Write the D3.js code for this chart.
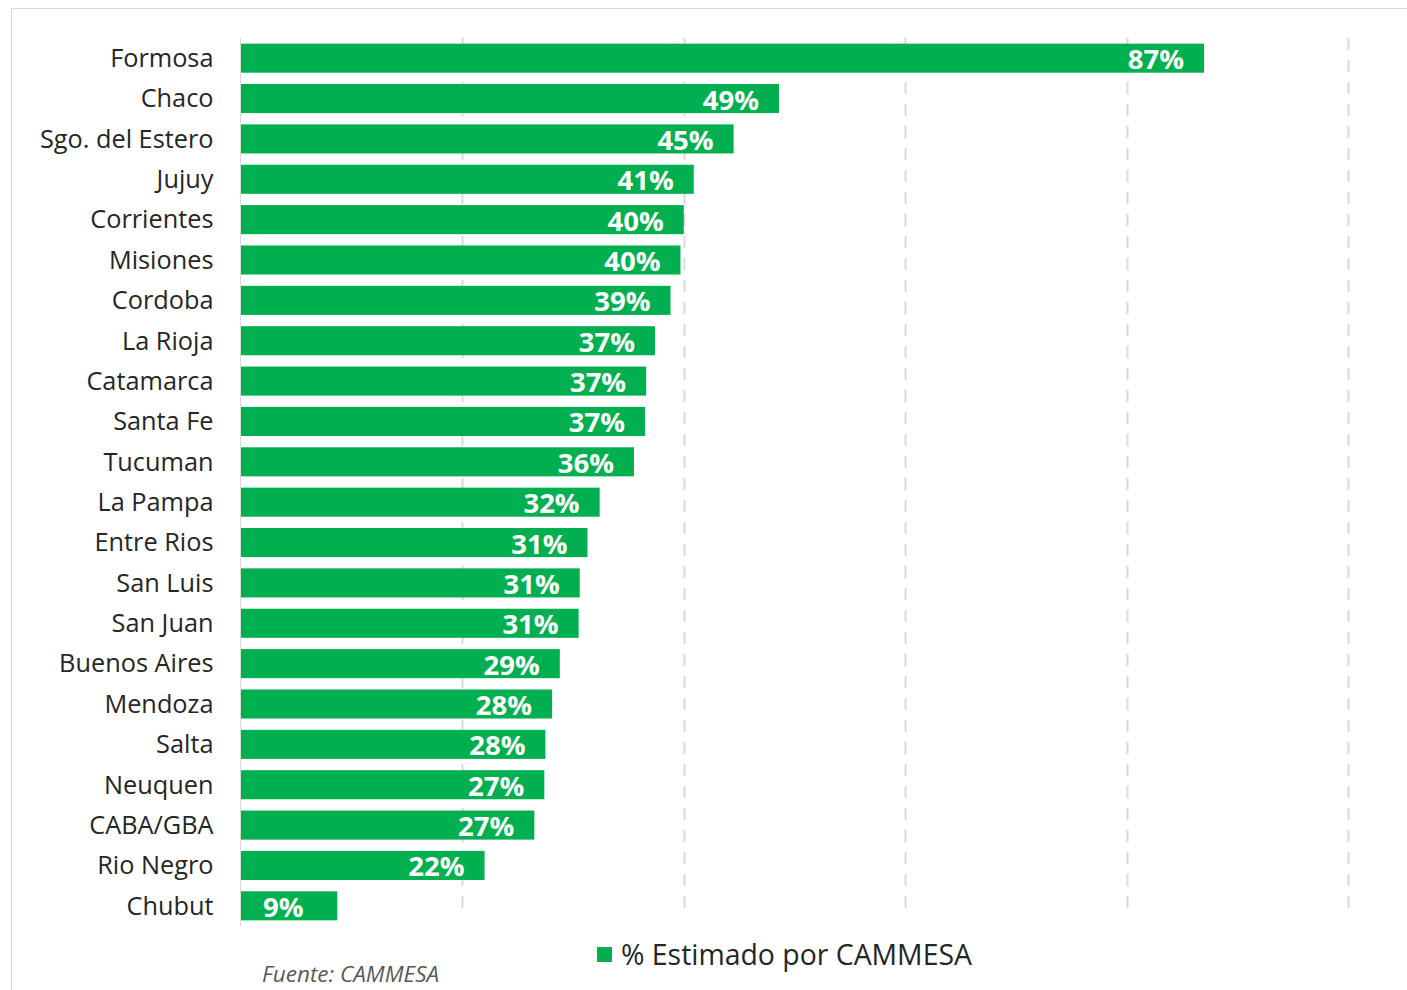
<!DOCTYPE html>
<html>
<head>
    <meta charset="utf-8">
    <title>% Estimado por CAMMESA</title>
    <script src="https://d3js.org/d3.v7.min.js"></script>
    <style>
        body { margin: 0; padding: 0; background: #fff; overflow: hidden; }
        svg text { font-family: "Open Sans", Lato, sans-serif; }
    </style>
</head>
<body>
    <script>
        // provinces, top to bottom
        var provinces = ["Formosa", "Chaco", "Sgo. del Estero", "Jujuy", "Corrientes", "Misiones",
            "Cordoba", "La Rioja", "Catamarca", "Santa Fe", "Tucuman", "La Pampa", "Entre Rios",
            "San Luis", "San Juan", "Buenos Aires", "Mendoza", "Salta", "Neuquen", "CABA/GBA",
            "Rio Negro", "Chubut"];
        var estimado = [87.0, 48.6, 44.5, 40.9, 40.0, 39.7, 38.8, 37.4, 36.6, 36.5, 35.5, 32.4,
            31.3, 30.6, 30.5, 28.8, 28.1, 27.5, 27.4, 26.5, 22.0, 8.7];
        var gridTicks = [20, 40, 60, 80, 100];
        var legendLabel = "% Estimado por CAMMESA";
        var sourceLabel = "Fuente: CAMMESA";

        var width = 1407, height = 990;
        var green = "#00b050";

        var svg = d3.select("body").append("svg")
            .attr("width", width)
            .attr("height", height);

        // outer frame
        svg.append("rect")
            .attr("x", 11.5).attr("y", 8.5)
            .attr("width", width + 20).attr("height", height + 20)
            .attr("fill", "none")
            .attr("stroke", "#d9d9d9");

        var x = d3.scaleLinear().domain([0, 100]).range([241, 1348]);
        var y = d3.scaleBand().domain(provinces).range([38, 926])
            .paddingInner(0.28).paddingOuter(0.14);

        // dashed gridlines
        svg.append("g").selectAll("line")
            .data(gridTicks)
            .join("line")
            .attr("x1", d => Math.round(x(d)) + 0.5)
            .attr("x2", d => Math.round(x(d)) + 0.5)
            .attr("y1", 38).attr("y2", 917)
            .attr("stroke", "#d9d9d9")
            .attr("stroke-width", 2)
            .attr("stroke-dasharray", "12,10");

        // bars
        svg.append("g").selectAll("rect")
            .data(provinces)
            .join("rect")
            .attr("x", x(0))
            .attr("y", d => y(d))
            .attr("width", (d, i) => x(estimado[i]) - x(0))
            .attr("height", y.bandwidth())
            .attr("fill", green);

        // value labels inside the bar end (short bars: from the start)
        svg.append("g").selectAll("text")
            .data(provinces)
            .join("text")
            .attr("x", (d, i) => x(estimado[i]) - x(0) < 120 ? x(0) + 22 : x(estimado[i]) - 20)
            .attr("y", d => y(d) + y.bandwidth() / 2 + 11)
            .attr("text-anchor", (d, i) => x(estimado[i]) - x(0) < 120 ? "start" : "end")
            .attr("fill", "#fff")
            .attr("font-weight", "bold")
            .attr("font-size", 27.5)
            .text((d, i) => Math.round(estimado[i]) + "%");

        // category axis
        var yAxis = svg.append("g")
            .attr("transform", "translate(240.5,0)")
            .call(d3.axisLeft(y).tickSize(0).tickPadding(27));
        yAxis.select(".domain").attr("stroke", "#d9d9d9").attr("d", "M0,38V926");
        yAxis.selectAll("text")
            .attr("font-size", 25.3)
            .attr("fill", "#262626")
            .attr("dy", "0.35em");

        // legend
        var legend = svg.append("g");
        legend.append("rect")
            .attr("x", 597).attr("y", 947)
            .attr("width", 15).attr("height", 15)
            .attr("fill", green);
        legend.append("text")
            .attr("x", 621).attr("y", 965)
            .attr("font-size", 28.4)
            .attr("fill", "#262626")
            .text(legendLabel);

        // source note
        svg.append("text")
            .attr("x", 262).attr("y", 982)
            .attr("font-size", 22.5)
            .attr("font-style", "italic")
            .attr("fill", "#595959")
            .text(sourceLabel);
    </script>
</body>
</html>
